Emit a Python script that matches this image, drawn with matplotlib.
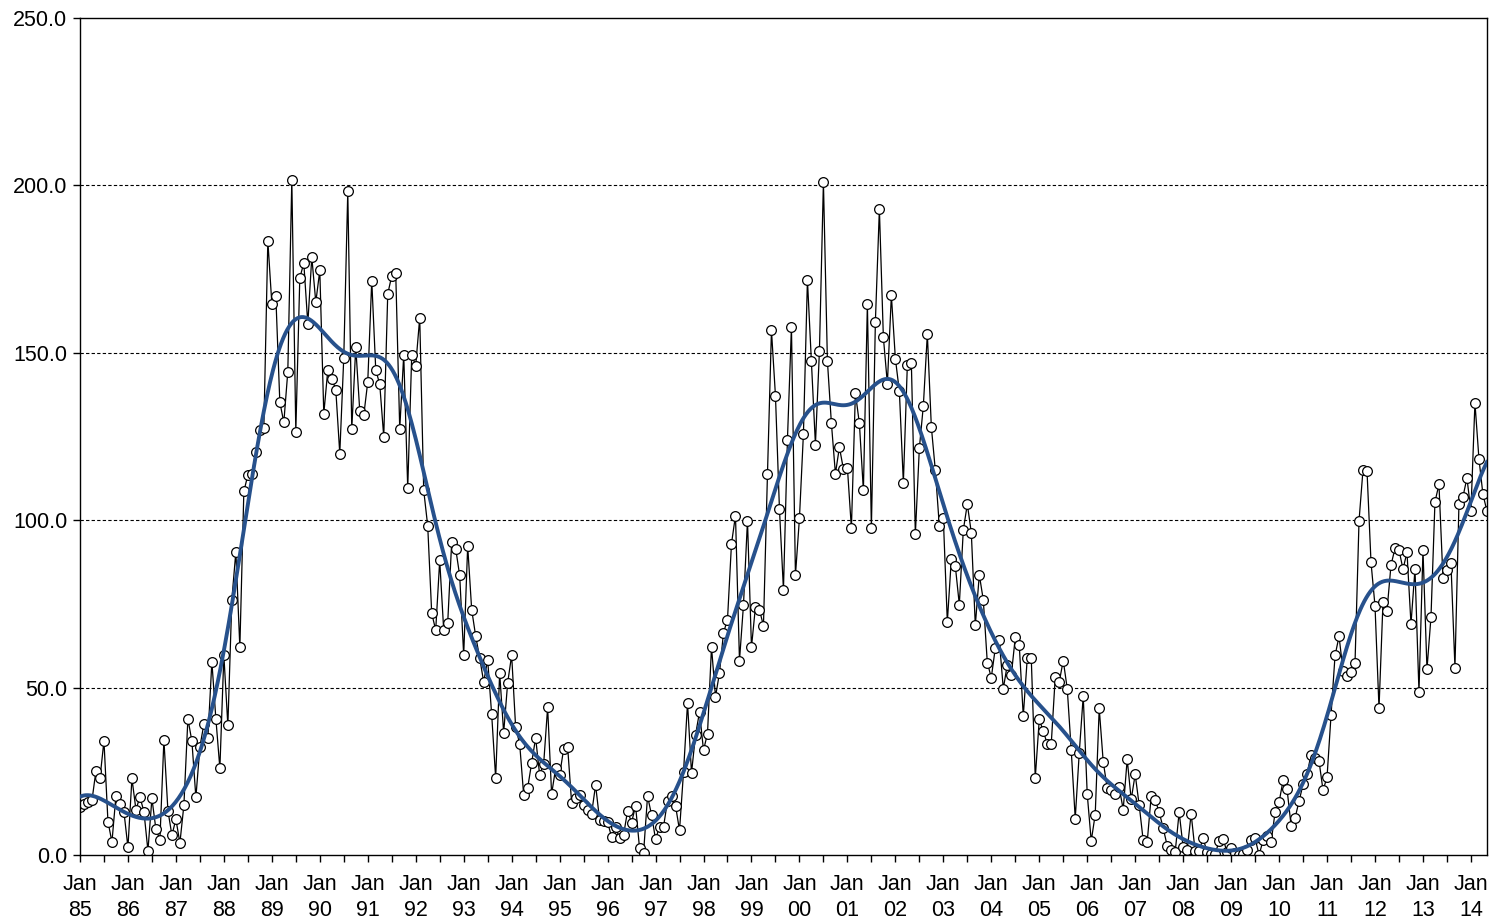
import numpy as np
import matplotlib
matplotlib.use("Agg")
import matplotlib.pyplot as plt

# monthly values, Jan 1985 .. May 2014
y1985 = [14.4, 15.1, 15.7, 16.3, 25.2, 22.9, 34.1, 10.0, 3.9, 17.7, 15.2, 12.9]
y1986 = [2.3, 22.9, 13.6, 17.3, 13.0, 1.3, 16.9, 7.7, 4.6, 34.4, 13.3, 5.9]
y1987 = [10.7, 3.6, 14.9, 40.7, 34.0, 17.2, 32.3, 39.1, 35.0, 57.7, 40.7, 25.9]
y1988 = [59.6, 38.7, 76.3, 90.6, 62.0, 108.6, 113.5, 113.8, 120.4, 126.9, 127.6, 183.5]
y1989 = [164.7, 166.9, 135.3, 129.2, 144.4, 201.7, 126.5, 172.4, 176.8, 158.7, 178.6, 165.1]
y1990 = [174.6, 131.8, 144.8, 142.3, 139.0, 119.9, 148.6, 198.2, 127.2, 151.7, 132.6, 131.3]
y1991 = [141.3, 171.6, 144.9, 140.6, 124.9, 167.6, 173.0, 173.7, 127.3, 149.4, 109.6, 149.4]
y1992 = [146.2, 160.5, 108.9, 98.3, 72.2, 67.2, 88.0, 67.2, 69.3, 93.5, 91.5, 83.5]
y1993 = [59.7, 92.3, 73.3, 65.4, 58.9, 51.7, 58.3, 42.0, 23.0, 54.4, 36.5, 51.4]
y1994 = [59.7, 38.1, 33.3, 18.0, 20.0, 27.6, 35.0, 24.0, 27.1, 44.1, 18.2, 25.9]
y1995 = [23.9, 31.6, 32.4, 15.6, 16.9, 17.9, 14.9, 13.6, 12.4, 20.9, 10.5, 10.2]
y1996 = [9.8, 5.4, 8.3, 5.0, 6.0, 13.2, 9.7, 14.7, 2.0, 0.6, 17.6, 12.0]
y1997 = [4.7, 8.5, 8.5, 16.2, 17.5, 14.7, 7.4, 24.8, 45.4, 24.5, 35.9, 42.7]
y1998 = [31.3, 36.3, 62.1, 47.3, 54.4, 66.4, 70.3, 93.0, 101.4, 58.1, 74.7, 99.9]
y1999 = [62.1, 74.2, 73.2, 68.5, 113.7, 156.7, 137.2, 103.3, 79.3, 124.1, 157.8, 83.5]
y2000 = [100.6, 125.9, 171.8, 147.5, 122.6, 150.5, 201.0, 147.5, 128.9, 113.9, 121.8, 115.3]
y2001 = [115.7, 97.6, 138.0, 128.9, 108.9, 164.6, 97.6, 159.3, 192.9, 154.6, 140.8, 167.2]
y2002 = [148.3, 138.5, 111.2, 146.5, 147.0, 95.8, 121.5, 134.2, 155.6, 127.9, 114.9, 98.3]
y2003 = [100.6, 69.6, 88.4, 86.3, 74.8, 97.1, 104.8, 96.3, 68.6, 83.7, 76.2, 57.5]
y2004 = [53.0, 61.8, 64.2, 49.7, 56.8, 53.7, 65.0, 62.6, 41.5, 58.8, 58.8, 23.0]
y2005 = [40.5, 37.0, 33.2, 33.2, 53.2, 51.7, 58.1, 49.7, 31.3, 10.9, 30.4, 47.5]
y2006 = [18.2, 4.2, 12.1, 43.8, 27.9, 20.0, 19.5, 18.3, 20.2, 13.6, 28.6, 16.6]
y2007 = [24.1, 14.9, 4.4, 3.8, 17.6, 16.5, 12.8, 8.1, 2.8, 1.6, 0.8, 12.8]
y2008 = [2.3, 1.4, 12.3, 1.1, 1.2, 5.0, 0.8, 0.4, 0.4, 4.1, 4.8, 0.8]
y2009 = [2.1, 0.6, 0.0, 0.4, 1.6, 4.4, 5.0, 0.0, 4.4, 5.6, 3.8, 12.8]
y2010 = [15.8, 22.3, 19.6, 8.8, 11.1, 16.1, 21.1, 24.2, 30.0, 29.0, 28.0, 19.3]
y2011 = [23.3, 41.8, 59.6, 65.3, 55.1, 53.4, 54.7, 57.4, 99.8, 115.1, 114.7, 87.4]
y2012 = [74.4, 43.8, 75.7, 73.0, 86.6, 91.6, 91.1, 85.4, 90.4, 69.0, 85.4, 48.7]
y2013 = [91.1, 55.5, 71.0, 105.5, 110.7, 82.7, 85.2, 87.1, 56.0, 104.8, 107.0, 112.6]
y2014 = [102.7, 135.1, 118.4, 107.7, 102.8]

years = list(range(1985, 2015))
tick_labels = ["Jan\n%02d" % (yr % 100) for yr in years]

values = np.array(y1985 + y1986 + y1987 + y1988 + y1989 + y1990 + y1991 + y1992
                  + y1993 + y1994 + y1995 + y1996 + y1997 + y1998 + y1999 + y2000
                  + y2001 + y2002 + y2003 + y2004 + y2005 + y2006 + y2007 + y2008
                  + y2009 + y2010 + y2011 + y2012 + y2013 + y2014)
months = np.arange(len(values))


# ========== smoothed trend (gaussian local quadratic fit) ==========
def local_fit(t, y, t_eval, bw, deg=2):
    out = []
    for t0 in t_eval:
        w = np.sqrt(np.exp(-0.5 * ((t - t0) / bw) ** 2))
        X = np.vstack([(t - t0) ** p for p in range(deg + 1)]).T
        beta = np.linalg.lstsq(X * w[:, None], y * w, rcond=None)[0]
        out.append(beta[0])
    return np.array(out)


t_fine = np.linspace(0, months[-1], 1400)
trend = local_fit(months.astype(float), values, t_fine, 8.0)

plt.rcParams['font.family'] = ['Liberation Sans', 'DejaVu Sans']

fig = plt.figure(figsize=(14.92, 9.19), dpi=100)
ax = fig.add_axes([0.0536, 0.0696, 0.943, 0.9108])

for lvl in [50, 100, 150, 200]:
    ax.axhline(lvl, color='black', lw=0.8, ls=(0, (3, 2)), zorder=1)

ax.plot(months, values, color='black', lw=0.9, marker='o', markersize=7,
        markerfacecolor='white', markeredgecolor='black', markeredgewidth=0.9, zorder=2)
ax.plot(t_fine, trend, color='#27518C', lw=2.8, zorder=3)

ax.set_xlim(0, months[-1])
ax.set_ylim(0, 250)
ax.set_yticks(np.arange(0, 251, 50))
ax.set_yticklabels(["%.1f" % v for v in np.arange(0, 251, 50)])
ax.set_xticks([12 * k for k in range(len(years))])
ax.set_xticklabels(tick_labels, linespacing=1.3)
ax.set_xticks([12 * k + 6 for k in range(len(years) - 1)], minor=True)

ax.tick_params(axis='both', direction='out', length=5, width=1, labelsize=15.5, colors='black')
ax.tick_params(axis='x', which='minor', direction='out', length=5, width=1)
ax.tick_params(axis='x', pad=9)
ax.tick_params(axis='y', pad=4)
for s in ax.spines.values():
    s.set_linewidth(1.0)
    s.set_color('black')

fig.savefig("out.png", dpi=100)
